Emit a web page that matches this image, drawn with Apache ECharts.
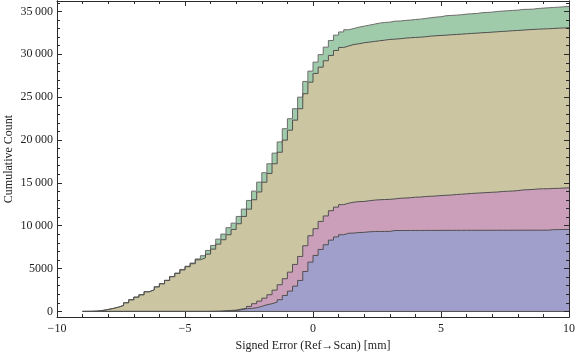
<!DOCTYPE html>
<html>
<head>
<meta charset="utf-8">
<script src="https://cdn.jsdelivr.net/npm/echarts@6/dist/echarts.min.js"></script>
<style>
html,body{margin:0;padding:0;background:#fff;}
#chart{width:576px;height:357px;}
</style>
</head>
<body>
<div id="chart"></div>
<script>
// Histogram bins: left edges start at -9 mm, width 0.2 mm (95 bins up to 10 mm)
const binStart = -9;
const binWidth = 0.2;

// Cumulative counts per bin, one array per dataset
const cumGreen = [0, 10, 40, 120, 230, 350, 500, 700, 1010, 1360,
  1670, 1950, 2300, 2530, 2880, 3240, 3640, 4080, 4470, 4900,
  5275, 5645, 6125, 6500, 7115, 7700, 8435, 9020, 9765, 10300,
  11085, 11935, 12950, 14035, 15085, 16180, 17230, 18470, 19775, 21315,
  22480, 23650, 25000, 26835, 28035, 29085, 29960, 30835, 31615, 32235,
  32610, 32865, 33015, 33170, 33285, 33400, 33520, 33635, 33720, 33750,
  33870, 33880, 33950, 33990, 34065, 34105, 34185, 34265, 34340, 34380,
  34500, 34535, 34570, 34615, 34690, 34730, 34765, 34850, 34885, 34920,
  35000, 35040, 35080, 35120, 35150, 35235, 35250, 35270, 35350, 35390,
  35430, 35470, 35505, 35545, 35585];

const cumTan = [0, 10, 40, 120, 230, 350, 500, 700, 1010, 1360,
  1665, 1940, 2290, 2515, 2860, 3220, 3610, 4045, 4435, 4840,
  5215, 5565, 6020, 6250, 6685, 7270, 7850, 8365, 8950, 9565,
  10230, 11085, 11935, 13030, 13940, 15075, 16100, 17230, 18575, 19985,
  21150, 22320, 23650, 25400, 26750, 27770, 28500, 29250, 29870, 30450,
  30800, 30975, 31150, 31230, 31350, 31420, 31500, 31580, 31650, 31735,
  31770, 31815, 31885, 31930, 31965, 32000, 32050, 32120, 32165, 32200,
  32235, 32280, 32315, 32350, 32400, 32435, 32470, 32515, 32550, 32585,
  32630, 32670, 32705, 32750, 32785, 32820, 32865, 32900, 32935, 32960,
  32980, 33015, 33050, 33075, 33100];

const cumPink = [0, 0, 0, 0, 0, 0, 0, 0, 0, 0,
  0, 0, 0, 0, 0, 0, 0, 0, 0, 0,
  0, 0, 0, 0, 10, 20, 35, 80, 117, 150,
  270, 350, 585, 900, 1200, 1550, 1950, 2485, 3115, 3815,
  4585, 5485, 6415, 7665, 8830, 9650, 10500, 11140, 11750, 12170,
  12460, 12635, 12750, 12810, 12835, 12915, 12985, 13030, 13055, 13080,
  13125, 13205, 13230, 13265, 13325, 13345, 13405, 13440, 13465, 13520,
  13555, 13580, 13640, 13675, 13720, 13765, 13800, 13835, 13870, 13905,
  13930, 13990, 14025, 14045, 14095, 14175, 14200, 14235, 14290, 14305,
  14315, 14350, 14360, 14395, 14430];

const cumBlue = [0, 0, 0, 0, 0, 0, 0, 0, 0, 0,
  0, 0, 0, 0, 0, 0, 0, 0, 0, 0,
  0, 0, 0, 0, 0, 0, 0, 20, 60, 100,
  200, 315, 350, 430, 585, 780, 900, 1085, 1365, 1865,
  2370, 2950, 3615, 4665, 5750, 6535, 7235, 7780, 8320, 8690,
  8950, 9125, 9145, 9205, 9230, 9290, 9320, 9330, 9335, 9340,
  9440, 9441, 9443, 9446, 9447, 9450, 9452, 9452, 9455, 9458,
  9460, 9460, 9462, 9463, 9465, 9466, 9466, 9468, 9469, 9470,
  9471, 9473, 9473, 9474, 9476, 9477, 9477, 9478, 9479, 9480,
  9481, 9540, 9545, 9555, 9565];

// Tick values
const xTicks = [-10, -5, 0, 5, 10];
const yMajorTicks = [0, 5000, 10000, 15000, 20000, 25000, 30000, 35000];
const yMinorTicks = [1000, 2000, 3000, 4000, 6000, 7000, 8000, 9000, 11000, 12000, 13000, 14000,
  16000, 17000, 18000, 19000, 21000, 22000, 23000, 24000, 26000, 27000, 28000, 29000,
  31000, 32000, 33000, 34000, 36000];

const FONT = "'Liberation Serif', 'DejaVu Serif', serif";
const AXIS_COLOR = '#2a2a2a';
const TEXT_COLOR = '#1e1e1e';

function fmtY(v) {
  if (v >= 10000) {
    return Math.floor(v / 1000) + '\u2009' + String(v % 1000).padStart(3, '0');
  }
  return String(v);
}
function fmtX(v) {
  return v < 0 ? '\u2212' + Math.abs(v) : String(v);
}

function stepSeries(name, data, fill, edge) {
  const pts = data.map((v, i) => [binStart + i * binWidth, v]);
  pts.push([binStart + data.length * binWidth, data[data.length - 1]]);
  return {
    type: 'line', name: name, data: pts, step: 'end', symbol: 'none',
    silent: true, animation: false, z: 2,
    lineStyle: { color: edge, width: 1 },
    itemStyle: { color: fill },
    areaStyle: { color: fill, opacity: 1 }
  };
}

const xMin = xTicks[0], xMax = xTicks[xTicks.length - 1];
const yMin = -650, yMax = 36220;

function yAxisDef(pos, ticks, len, showLabel, name) {
  const ax = {
    type: 'value', position: pos, min: yMin, max: yMax, z: 10,
    axisLine: { show: true, onZero: false, lineStyle: { color: AXIS_COLOR, width: 1 } },
    axisTick: { show: true, inside: true, length: len, customValues: ticks, lineStyle: { color: AXIS_COLOR } },
    axisLabel: showLabel ? { show: true, customValues: ticks, formatter: fmtY, margin: 4,
      color: TEXT_COLOR, fontFamily: FONT, fontSize: 12 } : { show: false },
    splitLine: { show: false }
  };
  if (name) {
    ax.name = name; ax.nameLocation = 'middle'; ax.nameGap = 42; ax.nameMoveOverlap = false;
    ax.nameTextStyle = { color: TEXT_COLOR, fontFamily: FONT, fontSize: 12 };
  }
  return ax;
}

const bottomBaseline = [[binStart, 0], [binStart + cumBlue.length * binWidth, 0]];

const option = {
  animation: false,
  backgroundColor: '#ffffff',
  grid: { left: 57, right: 7, top: 1, bottom: 40, containLabel: false, outerBoundsMode: 'none' },
  xAxis: [
    {
      type: 'value', position: 'bottom', min: xMin, max: xMax, interval: 5, z: 10,
      name: 'Signed Error (Ref\u2192Scan) [mm]', nameLocation: 'middle', nameGap: 23,
      nameTextStyle: { color: TEXT_COLOR, fontFamily: FONT, fontSize: 12 },
      axisLine: { show: true, onZero: false, lineStyle: { color: AXIS_COLOR, width: 1 } },
      axisTick: { show: true, inside: true, length: 5, lineStyle: { color: AXIS_COLOR } },
      minorTick: { show: true, splitNumber: 5, length: 3, lineStyle: { color: AXIS_COLOR } },
      axisLabel: { show: true, formatter: fmtX, margin: 6, color: TEXT_COLOR, fontFamily: FONT, fontSize: 12 },
      splitLine: { show: false }
    },
    {
      type: 'value', position: 'top', min: xMin, max: xMax, interval: 5, z: 10,
      axisLine: { show: true, onZero: false, lineStyle: { color: AXIS_COLOR, width: 1 } },
      axisTick: { show: true, inside: true, length: 5, lineStyle: { color: AXIS_COLOR } },
      minorTick: { show: true, splitNumber: 5, length: 3, lineStyle: { color: AXIS_COLOR } },
      axisLabel: { show: false },
      splitLine: { show: false }
    }
  ],
  yAxis: [
    yAxisDef('left', yMajorTicks, 5, true, 'Cumulative Count'),
    yAxisDef('left', yMinorTicks, 3, false),
    yAxisDef('right', yMajorTicks, 5, false),
    yAxisDef('right', yMinorTicks, 3, false)
  ],
  series: [
    stepSeries('green', cumGreen, '#a0cbab', '#6c6c6c'),
    stepSeries('tan', cumTan, '#cbc6a1', '#505050'),
    stepSeries('pink', cumPink, '#cb9fba', '#505050'),
    stepSeries('blue', cumBlue, '#a09fcb', '#505050'),
    {
      type: 'line', data: bottomBaseline, symbol: 'none', silent: true, animation: false, z: 3,
      lineStyle: { color: '#505050', width: 1 }
    }
  ]
};

const chart = echarts.init(document.getElementById('chart'), null, { renderer: 'canvas' });
chart.setOption(option);
</script>
</body>
</html>
